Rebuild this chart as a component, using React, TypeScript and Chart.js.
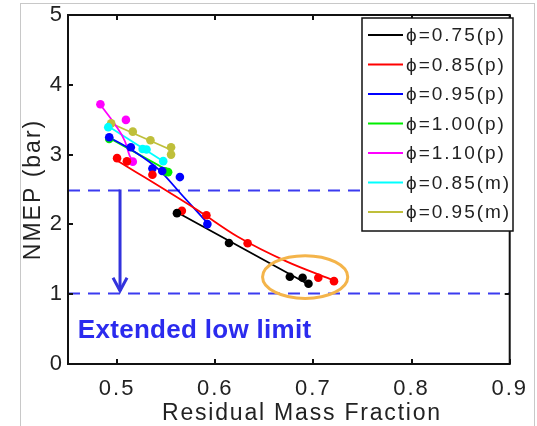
import React, { useEffect, useRef } from "react";
import { Chart, registerables } from "chart.js";
Chart.register(...registerables);

// ---------- data ----------
const xTickValues = [0.5, 0.6, 0.7, 0.8, 0.9];
const yTickValues = [0, 1, 2, 3, 4, 5];
const xAxisTitle = "Residual Mass Fraction";
const yAxisTitle = "NMEP (bar)";

const seriesLabels = ["ϕ=0.75(p)", "ϕ=0.85(p)", "ϕ=0.95(p)", "ϕ=1.00(p)", "ϕ=1.10(p)", "ϕ=0.85(m)", "ϕ=0.95(m)"];
const seriesColors = ["#000000", "#ff0000", "#0000ff", "#00ee00", "#ff00ff", "#00ffff", "#bfbf3a"];

// measured points
const phi075pX = [0.561, 0.614, 0.676, 0.689, 0.695];
const phi075pY = [2.161, 1.734, 1.249, 1.235, 1.15];
const phi085pX = [0.5, 0.51, 0.536, 0.566, 0.591, 0.633, 0.705, 0.721];
const phi085pY = [2.949, 2.903, 2.711, 2.194, 2.132, 1.731, 1.235, 1.187];
const phi095pX = [0.492, 0.514, 0.536, 0.546, 0.564, 0.592];
const phi095pY = [3.248, 3.105, 2.8, 2.764, 2.678, 2.004];
const phi100pX = [0.492, 0.549, 0.552];
const phi100pY = [3.224, 2.76, 2.749];
const phi110pX = [0.483, 0.509, 0.516];
const phi110pY = [3.722, 3.497, 2.899];
const phi085mX = [0.491, 0.526, 0.53, 0.547];
const phi085mY = [3.393, 3.081, 3.073, 2.906];
const phi095mX = [0.494, 0.516, 0.534, 0.555, 0.555];
const phi095mY = [3.447, 3.329, 3.205, 3.105, 3.0];

// fitted curves
const fit075pX = [0.561, 0.697];
const fit075pY = [2.175, 1.125];
const fit085pX = [0.5, 0.583, 0.623, 0.673, 0.721];
const fit085pY = [2.917, 2.194, 1.823, 1.467, 1.197];
const fit095pX = [0.492, 0.517, 0.542, 0.567, 0.591];
const fit095pY = [3.248, 3.048, 2.792, 2.407, 2.037];
const fit100pX = [0.492, 0.556];
const fit100pY = [3.238, 2.739];
const fit110pX = [0.483, 0.498, 0.508, 0.513, 0.516];
const fit110pY = [3.714, 3.429, 3.191, 2.977, 2.906];
const fit085mX = [0.491, 0.547];
const fit085mY = [3.405, 2.906];
const fit095mX = [0.493, 0.554];
const fit095mY = [3.452, 3.073];

// annotations
const upperLimit = 2.5;
const extendedLimit = 1.02;
const arrowX = 0.503;
const annotationText = "Extended low limit";
const annotationPos = { x: 0.46, y: 0.48 };
const ellipseCenter = { x: 0.6916, y: 1.246 };
const ellipseRadius = { x: 0.0434, y: 0.306 };

const pointsX = [phi075pX, phi085pX, phi095pX, phi100pX, phi110pX, phi085mX, phi095mX];
const pointsY = [phi075pY, phi085pY, phi095pY, phi100pY, phi110pY, phi085mY, phi095mY];
const fitsX = [fit075pX, fit085pX, fit095pX, fit100pX, fit110pX, fit085mX, fit095mX];
const fitsY = [fit075pY, fit085pY, fit095pY, fit100pY, fit110pY, fit085mY, fit095mY];

const zip = (xs: number[], ys: number[]) => xs.map((x, i) => ({ x, y: ys[i] }));

const FONT = "'Liberation Sans', Arial, sans-serif";

const decorPlugin = {
  id: "decor",
  beforeDraw(chart: any) {
    const { ctx, width, height } = chart;
    ctx.save();
    ctx.fillStyle = "#ffffff";
    ctx.fillRect(0, 0, width, height);
    ctx.strokeStyle = "#c8c8c8";
    ctx.lineWidth = 1;
    ctx.strokeRect(20.5, 3.5, 514, 440);
    ctx.restore();
    ctx.letterSpacing = "2px";
  },
  beforeDatasetsDraw(chart: any) {
    const { ctx, chartArea, scales } = chart;
    const ys = scales.y;
    ctx.save();
    ctx.strokeStyle = "#3b3bf0";
    ctx.lineWidth = 2;
    ctx.setLineDash([12, 8]);
    [upperLimit, extendedLimit].forEach((v) => {
      const py = Math.round(ys.getPixelForValue(v)) + 0.5;
      ctx.beginPath();
      ctx.moveTo(chartArea.left, py);
      ctx.lineTo(chartArea.right, py);
      ctx.stroke();
    });
    ctx.restore();
  },
  afterDatasetsDraw(chart: any) {
    const { ctx, scales } = chart;
    const xs = scales.x, ys = scales.y;
    ctx.save();
    // arrow
    const ax = xs.getPixelForValue(arrowX);
    const ay1 = ys.getPixelForValue(upperLimit);
    const ay2 = ys.getPixelForValue(extendedLimit) - 2;
    ctx.strokeStyle = "#3333dd";
    ctx.lineWidth = 3;
    ctx.beginPath();
    ctx.moveTo(ax, ay1);
    ctx.lineTo(ax, ay2);
    ctx.stroke();
    ctx.beginPath();
    ctx.moveTo(ax - 7, ay2 - 13);
    ctx.lineTo(ax, ay2);
    ctx.lineTo(ax + 7, ay2 - 13);
    ctx.stroke();
    // ellipse
    const cx = xs.getPixelForValue(ellipseCenter.x);
    const cy = ys.getPixelForValue(ellipseCenter.y);
    const rx = Math.abs(xs.getPixelForValue(ellipseCenter.x + ellipseRadius.x) - cx);
    const ry = Math.abs(ys.getPixelForValue(ellipseCenter.y + ellipseRadius.y) - cy);
    ctx.strokeStyle = "#f4b44a";
    ctx.lineWidth = 3;
    ctx.beginPath();
    ctx.ellipse(cx, cy, rx, ry, 0, 0, Math.PI * 2);
    ctx.stroke();
    // text
    ctx.letterSpacing = "0.3px";
    ctx.fillStyle = "#2b2bee";
    ctx.font = `bold 26px ${FONT}`;
    ctx.textBaseline = "middle";
    ctx.textAlign = "left";
    ctx.fillText(annotationText, xs.getPixelForValue(annotationPos.x), ys.getPixelForValue(annotationPos.y));
    ctx.restore();
  },
  afterDraw(chart: any) {
    const { ctx, chartArea, scales } = chart;
    const { left, right, top, bottom } = chartArea;
    const xs = scales.x, ys = scales.y;
    ctx.save();
    ctx.strokeStyle = "#111111";
    ctx.lineWidth = 2;
    ctx.strokeRect(left, top, right - left, bottom - top);
    const tl = 5;
    ctx.beginPath();
    xTickValues.forEach((v) => {
      const px = Math.round(xs.getPixelForValue(v));
      ctx.moveTo(px, bottom); ctx.lineTo(px, bottom - tl);
      ctx.moveTo(px, top); ctx.lineTo(px, top + tl);
    });
    yTickValues.forEach((v) => {
      const py = Math.round(ys.getPixelForValue(v));
      ctx.moveTo(left, py); ctx.lineTo(left + tl, py);
      ctx.moveTo(right, py); ctx.lineTo(right - tl, py);
    });
    ctx.stroke();

    // x axis title
    ctx.letterSpacing = "1.8px";
    ctx.fillStyle = "#222222";
    ctx.font = `23px ${FONT}`;
    ctx.textAlign = "left";
    ctx.textBaseline = "alphabetic";
    ctx.fillText(xAxisTitle, 162, 420);

    // legend
    const lx = 362, ly = 18, lw = 151, lh = 213;
    ctx.fillStyle = "#ffffff";
    ctx.fillRect(lx, ly, lw, lh);
    ctx.lineWidth = 1.5;
    ctx.strokeStyle = "#111111";
    ctx.strokeRect(lx, ly, lw, lh);
    ctx.letterSpacing = "2px";
    ctx.font = `19px ${FONT}`;
    ctx.textBaseline = "middle";
    ctx.textAlign = "left";
    seriesLabels.forEach((label, i) => {
      const y = 35 + i * 29.5;
      ctx.strokeStyle = seriesColors[i];
      ctx.lineWidth = 2;
      ctx.beginPath();
      ctx.moveTo(368, y);
      ctx.lineTo(403, y);
      ctx.stroke();
      ctx.fillStyle = "#222222";
      ctx.fillText(label, 406, y + 1);
    });
    ctx.restore();
  },
};

export default function App() {
  const canvasRef = useRef<HTMLCanvasElement | null>(null);
  useEffect(() => {
    if (!canvasRef.current) return;
    const datasets: any[] = [];
    seriesLabels.forEach((label, i) => {
      datasets.push({
        label: label + " fit",
        data: zip(fitsX[i], fitsY[i]),
        showLine: true,
        borderColor: seriesColors[i],
        borderWidth: 1.8,
        pointRadius: 0,
        cubicInterpolationMode: "monotone",
        order: 2,
      });
    });
    seriesLabels.forEach((label, i) => {
      datasets.push({
        label,
        data: zip(pointsX[i], pointsY[i]),
        showLine: false,
        backgroundColor: seriesColors[i],
        borderWidth: 0,
        pointRadius: 4.3,
        order: 1,
      });
    });
    const chart = new Chart(canvasRef.current, {
      type: "scatter",
      data: { datasets },
      options: {
        animation: false,
        responsive: false,
        layout: { padding: { left: 0, right: 20, top: 13, bottom: 0 } },
        plugins: { legend: { display: false }, tooltip: { enabled: false } },
        scales: {
          x: {
            type: "linear",
            min: 0.45,
            max: 0.9,
            afterBuildTicks: (s: any) => { s.ticks = xTickValues.map((v) => ({ value: v })); },
            afterFit: (s: any) => { s.height = 62; },
            grid: { display: false, drawTicks: false },
            border: { display: false },
            ticks: { color: "#222", font: { family: FONT, size: 22 }, padding: 12, maxRotation: 0, callback: (v: any) => String(v) },
            title: { display: false, text: xAxisTitle },
          },
          y: {
            type: "linear",
            min: 0,
            max: 5,
            afterBuildTicks: (s: any) => { s.ticks = yTickValues.map((v) => ({ value: v })); },
            afterFit: (s: any) => { s.width = 68; },
            grid: { display: false, drawTicks: false },
            border: { display: false },
            ticks: { color: "#222", font: { family: FONT, size: 22, lineHeight: 1.0 }, padding: 4 },
            title: { display: true, text: yAxisTitle, color: "#222", font: { family: FONT, size: 23 }, padding: { top: 20, bottom: 0 } },
          },
        },
      },
      plugins: [decorPlugin],
    });
    return () => chart.destroy();
  }, []);
  return (
    <div style={{ position: "absolute", left: 0, top: 0, width: 537, height: 426 }}>
      <canvas ref={canvasRef} width={537} height={426} />
    </div>
  );
}
